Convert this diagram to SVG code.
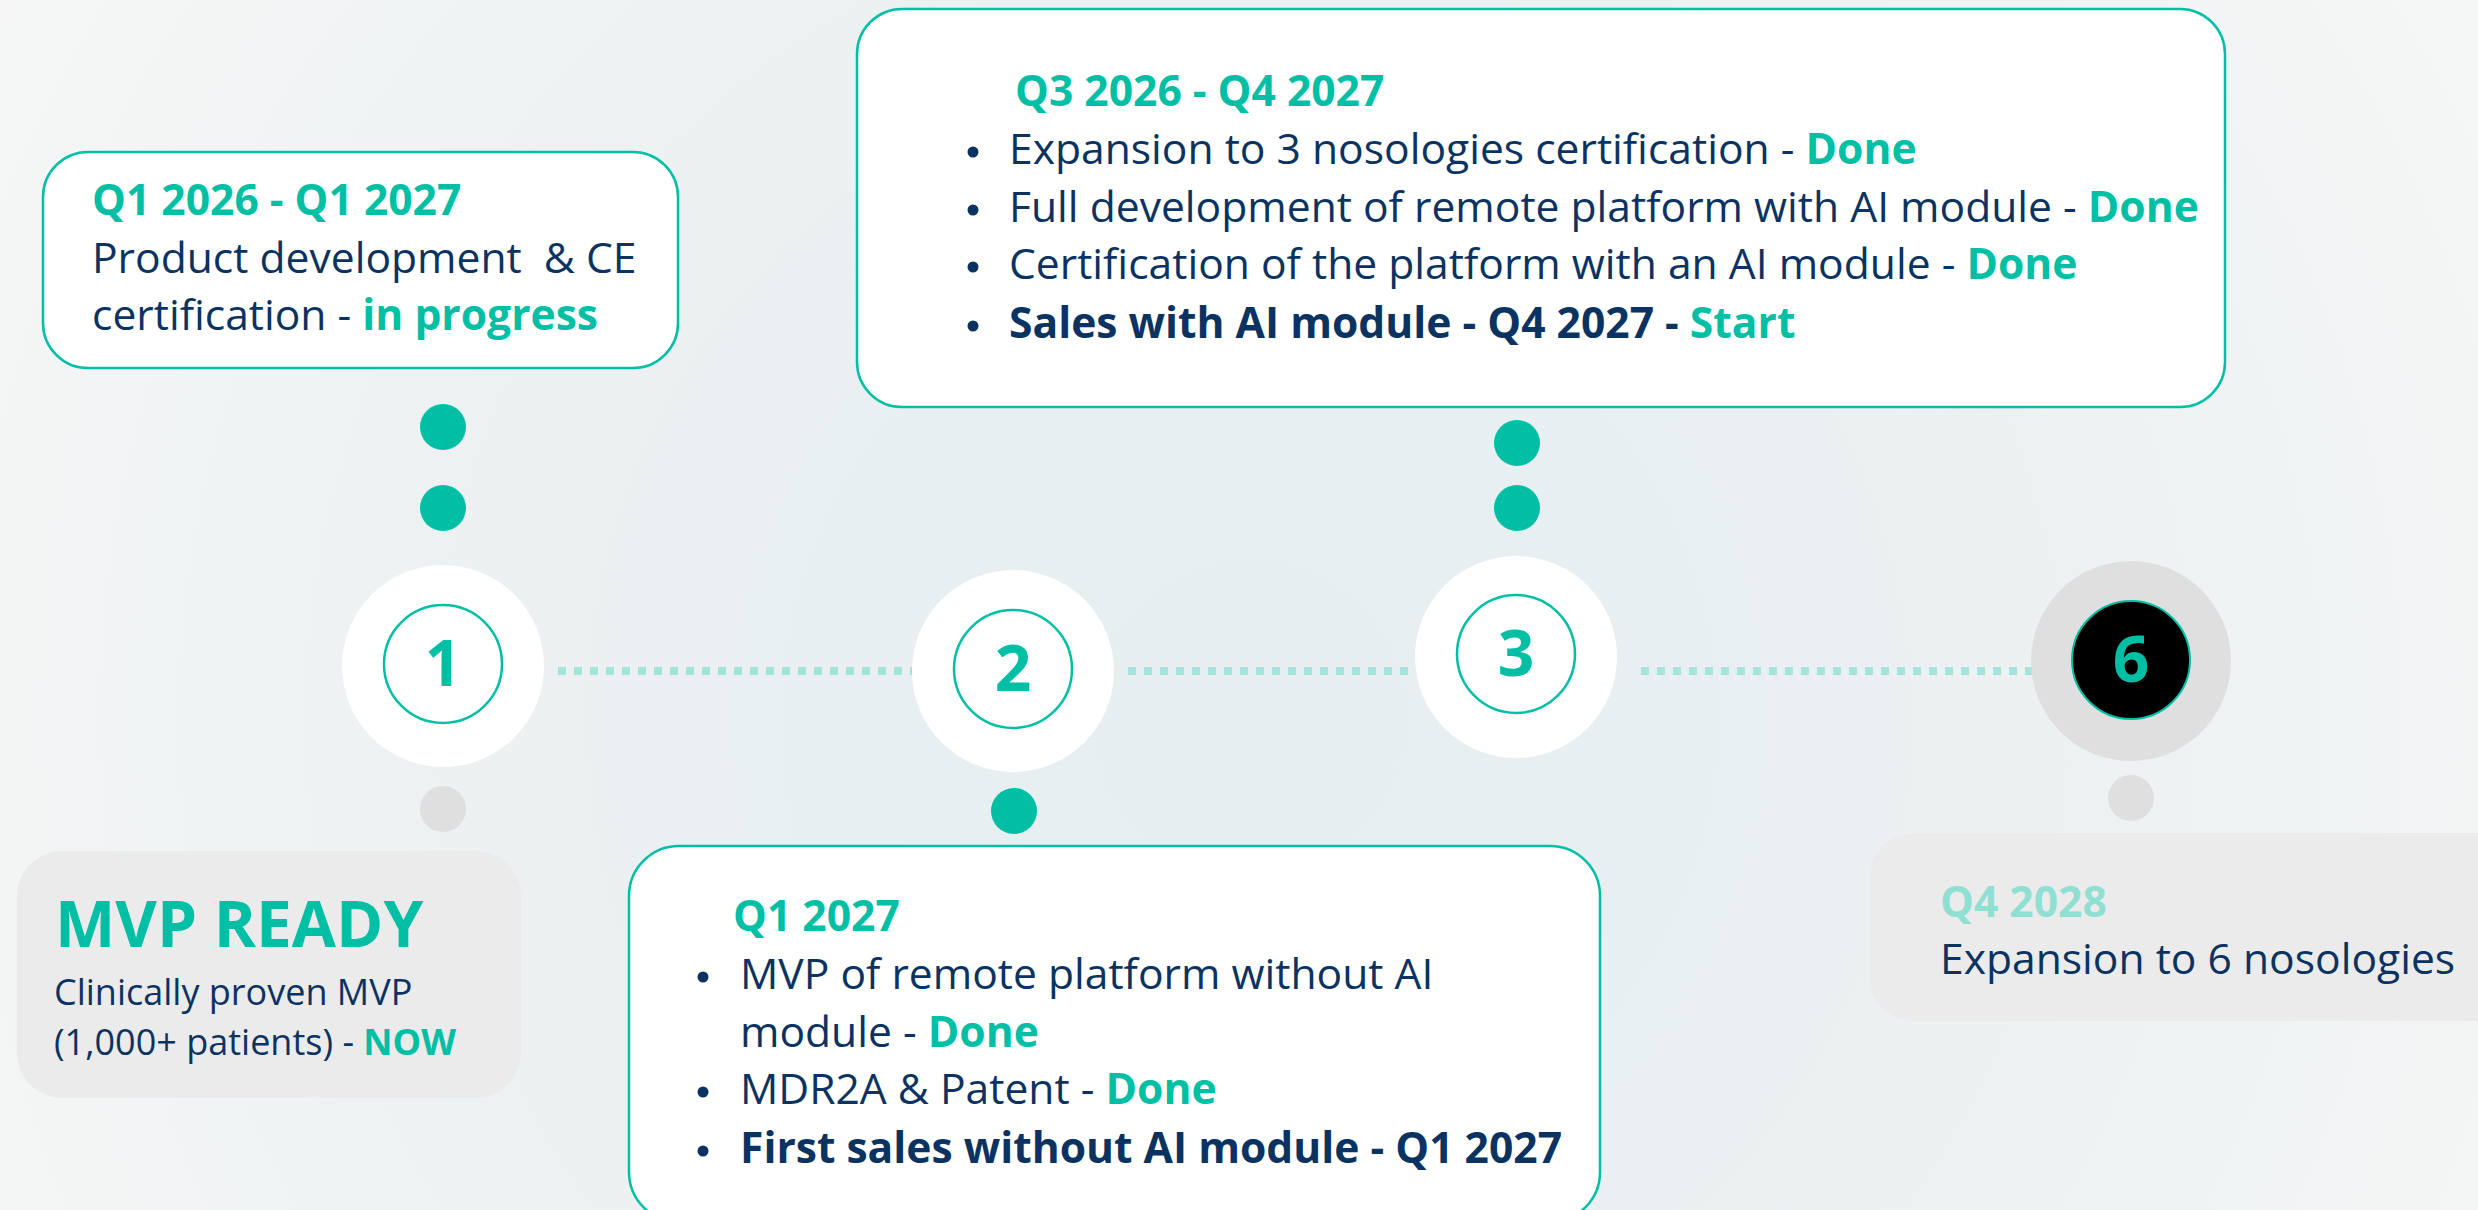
<svg xmlns="http://www.w3.org/2000/svg" width="2478" height="1210" viewBox="0 0 2478 1210">
  <defs>
    <radialGradient id="bg" cx="1250" cy="720" r="1500" gradientUnits="userSpaceOnUse">
      <stop offset="0" stop-color="#e6eef0"/>
      <stop offset="0.55" stop-color="#ecf1f2"/>
      <stop offset="1" stop-color="#f7f7f7"/>
    </radialGradient>
  </defs>
  <style>
    text { font-family: "Open Sans", "Noto Sans", "Liberation Sans", sans-serif; }
    .box { fill: #ffffff; stroke: #00bfa5; stroke-width: 2.5; }
    .gbox { fill: #ebebeb; stroke: none; }
    .body { font-size: 42.6px; fill: #0b3362; }
    .title { font-size: 42.6px; font-weight: 700; fill: #00bfa5; }
    .g { fill: #00bfa5; font-weight: 700; }
    .b { font-weight: 700; }
    .bul { fill: #0b3362; }
    .ring { fill: #ffffff; }
    .inner { fill: #ffffff; stroke: #00bfa5; stroke-width: 2.5; }
    .num { font-size: 64px; font-weight: 700; fill: #00bfa5; text-anchor: middle; }
    .dot { fill: #00bfa5; }
    .gdot { fill: #dfdfdf; }
    .dash { stroke: #a6e3dc; stroke-width: 8; stroke-dasharray: 8 8; fill: none; }
  </style>
  <rect x="0" y="0" width="2478" height="1210" fill="url(#bg)"/>

  <g id="connectors">
    <line class="dash" x1="558" y1="671" x2="912" y2="671"/>
    <line class="dash" x1="1128" y1="671" x2="1414" y2="671"/>
    <line class="dash" x1="1641" y1="671" x2="2035" y2="671"/>
    <circle class="dot" cx="443" cy="427" r="23"/>
    <circle class="dot" cx="443" cy="508" r="23"/>
    <circle class="gdot" cx="443" cy="809" r="23"/>
    <circle class="dot" cx="1014" cy="811" r="23"/>
    <circle class="dot" cx="1517" cy="443" r="23"/>
    <circle class="dot" cx="1517" cy="508" r="23"/>
    <circle class="gdot" cx="2131" cy="798" r="23"/>
  </g>

  <g id="node-1">
    <circle class="ring" cx="443" cy="666" r="101"/>
    <circle class="inner" cx="443" cy="664" r="59"/>
    <text class="num" x="443" y="686">1</text>
  </g>
  <g id="node-2">
    <circle class="ring" cx="1013" cy="671" r="101"/>
    <circle class="inner" cx="1013" cy="669" r="59"/>
    <text class="num" x="1013" y="691">2</text>
  </g>
  <g id="node-3">
    <circle class="ring" cx="1516" cy="657" r="101"/>
    <circle class="inner" cx="1516" cy="654" r="59"/>
    <text class="num" x="1516" y="676">3</text>
  </g>
  <g id="node-6">
    <circle cx="2131" cy="661" r="100" fill="#dfdfdf"/>
    <circle cx="2131" cy="660" r="59" fill="#000000" stroke="#00bfa5" stroke-width="2"/>
    <text class="num" x="2131" y="682">6</text>
  </g>

  <g id="box-q1-2026">
    <rect class="box" x="43" y="152" width="635" height="216" rx="45" ry="45"/>
    <text class="title" x="92" y="215">Q1 2026 - Q1 2027</text>
    <text class="body" x="92" y="273" style="white-space:pre">Product development  &amp; CE</text>
    <text class="body" x="92" y="330">certification - <tspan class="g">in progress</tspan></text>
  </g>

  <g id="box-q3-2026">
    <rect class="box" x="857" y="9" width="1368" height="398" rx="45" ry="45"/>
    <text class="title" x="1015" y="106">Q3 2026 - Q4 2027</text>
    <circle class="bul" cx="973" cy="152" r="5.5"/>
    <text class="body" x="1009" y="164">Expansion to 3 nosologies certification - <tspan class="g">Done</tspan></text>
    <circle class="bul" cx="973" cy="210" r="5.5"/>
    <text class="body" x="1009" y="222">Full development of remote platform with AI module - <tspan class="g">Done</tspan></text>
    <circle class="bul" cx="973" cy="267" r="5.5"/>
    <text class="body" x="1009" y="279">Certification of the platform with an AI module - <tspan class="g">Done</tspan></text>
    <circle class="bul" cx="973" cy="326" r="5.5"/>
    <text class="body b" x="1009" y="338">Sales with AI module - Q4 2027 - <tspan class="g">Start</tspan></text>
  </g>

  <g id="box-mvp">
    <rect class="gbox" x="17" y="851" width="504" height="247" rx="45" ry="45"/>
    <text x="55" y="947" font-size="64" font-weight="700" fill="#00bfa5">MVP READY</text>
    <text x="54" y="1005" font-size="36" fill="#0b3362">Clinically proven MVP</text>
    <text x="54" y="1055" font-size="36" fill="#0b3362">(1,000+ patients) - <tspan class="g">NOW</tspan></text>
  </g>

  <g id="box-q1-2027">
    <rect class="box" x="629" y="846" width="971" height="376" rx="50" ry="50"/>
    <text class="title" x="733" y="931">Q1 2027</text>
    <circle class="bul" cx="703" cy="977" r="5.5"/>
    <text class="body" x="740" y="989">MVP of remote platform without AI</text>
    <text class="body" x="740" y="1047">module - <tspan class="g">Done</tspan></text>
    <circle class="bul" cx="703" cy="1092" r="5.5"/>
    <text class="body" x="740" y="1104">MDR2A &amp; Patent - <tspan class="g">Done</tspan></text>
    <circle class="bul" cx="703" cy="1151" r="5.5"/>
    <text class="body b" x="740" y="1163">First sales without AI module - Q1 2027</text>
  </g>

  <g id="box-q4-2028">
    <rect class="gbox" x="1869" y="833" width="660" height="188" rx="45" ry="45"/>
    <text x="1940" y="917" font-size="42.6" font-weight="700" fill="#8fe0d3">Q4 2028</text>
    <text class="body" x="1940" y="974">Expansion to 6 nosologies</text>
  </g>
</svg>
